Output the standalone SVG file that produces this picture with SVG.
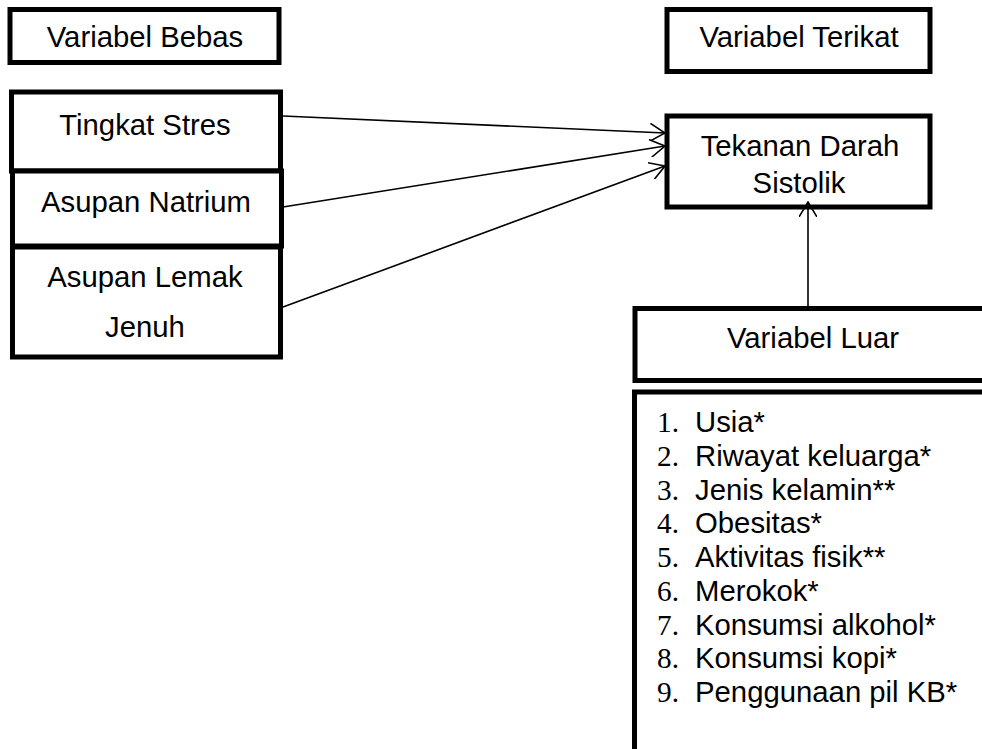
<svg xmlns="http://www.w3.org/2000/svg" width="982" height="749" viewBox="0 0 982 749">
<style>
.box{fill:#fff;stroke:#000;stroke-width:5}
.t{font-family:"Liberation Sans",Arial,sans-serif;font-size:29.3px;fill:#000}
.c{text-anchor:middle}
.n{font-family:"Liberation Serif","Times New Roman",serif;font-size:29.3px;fill:#000}
.conn{stroke:#000;stroke-width:1.6;fill:none}
</style>
<defs>
<marker id="arr" viewBox="0 0 16 18" refX="15" refY="9" markerWidth="16" markerHeight="18" markerUnits="userSpaceOnUse" orient="auto">
<path d="M0,0 L15,9 L0,18" fill="none" stroke="#000" stroke-width="1.6"/>
</marker>
</defs>
<rect width="982" height="749" fill="#fff"/>
<g id="variabel-bebas">
<rect class="box" x="10" y="9.5" width="269" height="53"/>
<text class="t c" x="145" y="47">Variabel Bebas</text>
</g>
<g id="tingkat-stres">
<rect class="box" x="11.5" y="92" width="269" height="79"/>
<text class="t c" x="145" y="135">Tingkat Stres</text>
</g>
<g id="asupan-natrium">
<rect class="box" x="12.5" y="171" width="269" height="75"/>
<text class="t c" x="146" y="212">Asupan Natrium</text>
</g>
<g id="asupan-lemak">
<rect class="box" x="12.5" y="247" width="268" height="110"/>
<text class="t c" x="145" y="287">Asupan Lemak</text>
<text class="t c" x="145" y="337">Jenuh</text>
</g>
<g id="variabel-terikat">
<rect class="box" x="667" y="9.5" width="263" height="62"/>
<text class="t c" x="799" y="47">Variabel Terikat</text>
</g>
<g id="tekanan-darah">
<rect class="box" x="667" y="116" width="263" height="91"/>
<text class="t c" x="800" y="156">Tekanan Darah</text>
<text class="t c" x="799" y="193">Sistolik</text>
</g>
<g id="variabel-luar">
<rect class="box" x="635" y="308.5" width="400" height="72"/>
<text class="t c" x="813" y="348">Variabel Luar</text>
</g>
<g id="daftar-luar">
<rect class="box" x="634.5" y="392" width="400" height="400"/>
<text class="n" x="657" y="432">1.</text><text class="t" x="695" y="432">Usia*</text>
<text class="n" x="657" y="465.8">2.</text><text class="t" x="695" y="465.8">Riwayat keluarga*</text>
<text class="n" x="657" y="499.5">3.</text><text class="t" x="695" y="499.5">Jenis kelamin**</text>
<text class="n" x="657" y="533.3">4.</text><text class="t" x="695" y="533.3">Obesitas*</text>
<text class="n" x="657" y="567">5.</text><text class="t" x="695" y="567">Aktivitas fisik**</text>
<text class="n" x="657" y="600.8">6.</text><text class="t" x="695" y="600.8">Merokok*</text>
<text class="n" x="657" y="634.5">7.</text><text class="t" x="695" y="634.5">Konsumsi alkohol*</text>
<text class="n" x="657" y="668.3">8.</text><text class="t" x="695" y="668.3">Konsumsi kopi*</text>
<text class="n" x="657" y="702">9.</text><text class="t" x="695" y="702">Penggunaan pil KB*</text>
</g>
<g id="connectors">
<line class="conn" x1="283" y1="116" x2="665" y2="133" marker-end="url(#arr)"/>
<line class="conn" x1="283" y1="207" x2="665" y2="146" marker-end="url(#arr)"/>
<line class="conn" x1="283" y1="307" x2="665" y2="166" marker-end="url(#arr)"/>
<line class="conn" x1="808" y1="306" x2="808" y2="202" marker-end="url(#arr)"/>
</g>
</svg>
